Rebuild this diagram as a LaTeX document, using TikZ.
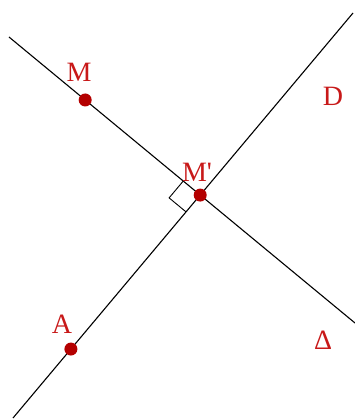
\documentclass[tikz,border=0pt]{standalone}
\usepackage{fontspec}
\setmainfont{Liberation Serif}
\usetikzlibrary{calc}
\definecolor{lblred}{RGB}{200,25,25}
\definecolor{dotred}{RGB}{180,0,0}
\begin{document}
\begin{tikzpicture}[x=1pt,y=-1pt,
  line/.style={black,line width=1.1pt},
  ptdot/.style={circle,fill=dotred,inner sep=0pt,minimum size=13pt},
  lbl/.style={text=lblred,font=\fontsize{28}{28}\selectfont,inner sep=0pt}]
\useasboundingbox (0,0) rectangle (355,420);
% line ends
\coordinate (d1) at (9,37);
\coordinate (d2) at (355,323);
\coordinate (e1) at (353,13);
\coordinate (e2) at (13,418);
\coordinate (I) at (intersection of d1--d2 and e1--e2);
% lines
\draw[line] (d1) -- (d2);
\draw[line] (e1) -- (e2);
% right angle mark
\coordinate (r1) at ($(I)!22pt!(d1)$);
\coordinate (r2) at ($(I)!22pt!(e2)$);
\coordinate (r3) at ($(r1)+(r2)-(I)$);
\draw[black,line width=0.9pt] (r1) -- (r3) -- (r2);
% points
\node[ptdot] (M) at ($(d1)!(86,99)!(d2)$) {};
\node[ptdot] (A) at ($(e1)!(72,350)!(e2)$) {};
\node[ptdot] (Mp) at (I) {};
% labels
\node[lbl] (lM) at (79,72) {M};
\node[lbl] (lD) at (333,96) {D};
\node[lbl] (lMp) at (197,172) {M\textquotesingle};
\node[lbl] (lA) at (62,324) {A};
\node[lbl] (lDelta) at (323,340) {Δ};
\end{tikzpicture}
\end{document}
